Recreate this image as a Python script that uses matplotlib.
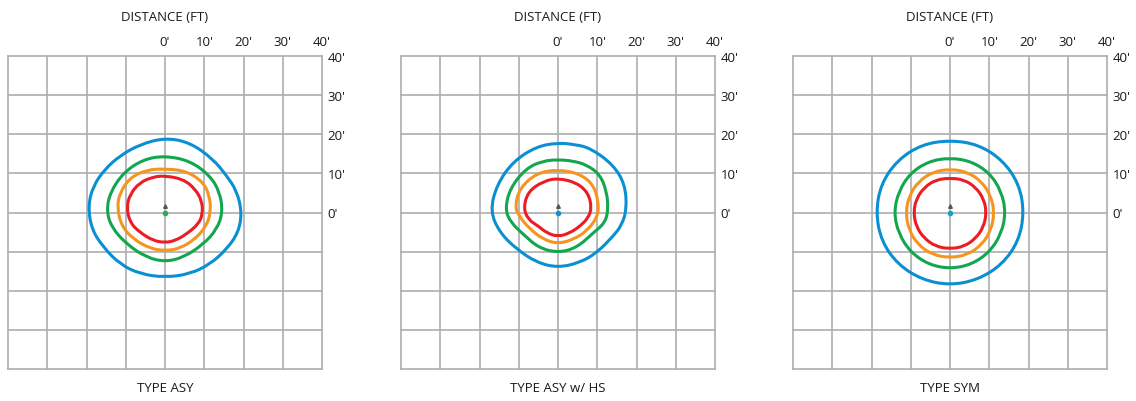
import matplotlib.pyplot as plt
from matplotlib.path import Path
from matplotlib.patches import PathPatch

plt.rcParams['font.family'] = ['Open Sans', 'DejaVu Sans']

# Panel titles and axis labels
titles = ['TYPE ASY', 'TYPE ASY w/ HS', 'TYPE SYM']
tick_vals = [0, 10, 20, 30, 40]
tick_labels = ["0'", "10'", "20'", "30'", "40'"]

# Contour points (feet), going clockwise from the top
# TYPE ASY
asy_blue_x = [0, 6.4, 12.3, 15.7, 18.3, 19.6, 18.7, 15.7, 11.5, 6.4, 0, -6.4, -11.5, -15.7, -18.7, -19.6, -18.3, -15.3, -11.5, -6.4]
asy_blue_y = [19.1, 17.9, 13.6, 9.4, 5.5, 0, -5.1, -9.4, -13.2, -15.7, -16.6, -15.7, -13.2, -8.9, -4.3, 1.7, 6.8, 11.1, 14.5, 17.4]
asy_green_x = [0, 6.4, 11.5, 14.0, 14.7, 13.2, 9.8, 4.7, 0, -4.7, -9.8, -13.6, -14.9, -14.0, -10.6, -5.5]
asy_green_y = [14.5, 13.2, 9.4, 5.1, 0, -4.3, -8.1, -11.5, -12.6, -11.5, -8.1, -3.8, 0.4, 5.1, 10.2, 13.6]
asy_orange_x = [0, 5.5, 9.8, 11.3, 11.7, 10.6, 7.7, 3.8, 0, -3.8, -8.1, -11.1, -12.2, -11.5, -8.9, -4.7]
asy_orange_y = [11.2, 10.6, 7.7, 4.3, 0.4, -3.4, -6.8, -9.2, -9.8, -9.2, -6.8, -3.4, 1.3, 5.1, 8.9, 10.9]
asy_red_x = [0, 4.7, 7.7, 9.4, 9.6, 8.5, 5.5, 2.6, 0, -3.0, -6.4, -8.9, -9.8, -8.9, -6.4, -3.0]
asy_red_y = [9.4, 8.5, 6.0, 3.0, -0.4, -3.0, -5.5, -7.2, -7.7, -7.2, -5.1, -2.6, 1.3, 4.7, 7.7, 9.1]

# TYPE ASY w/ HS
hs_blue_x = [0, 4.2, 8.2, 14.1, 17.1, 17.5, 16.2, 14.1, 9.9, 5.6, 0, -5.4, -10.5, -14.8, -17.3, -15.6, -11.4, -5.4]
hs_blue_y = [17.8, 17.4, 16.5, 12.2, 7.1, 0.8, -3.3, -6.0, -10.3, -12.8, -14.1, -12.8, -9.4, -5.2, 0.3, 7.1, 13.1, 16.9]
hs_green_x = [0, 3.7, 7.3, 10.7, 12.4, 12.8, 12.0, 9.0, 4.8, 0, -5.0, -8.8, -12.0, -13.5, -12.2, -8.0, -3.7]
hs_green_y = [13.5, 13.2, 12.2, 9.7, 5.4, 0.8, -2.6, -5.2, -9.0, -10.3, -9.0, -5.6, -2.6, 0.8, 6.3, 11.4, 13.2]
hs_orange_x = [0, 5.6, 9.0, 10.3, 10.2, 7.3, 3.9, 0, -3.7, -7.1, -9.9, -11.0, -9.7, -5.4]
hs_orange_y = [11.0, 9.9, 7.1, 2.9, -1.0, -4.8, -6.9, -8.0, -6.9, -4.3, -1.0, 1.6, 6.3, 10.1]
hs_red_x = [0, 4.8, 7.7, 8.6, 7.7, 5.6, 3.1, 0, -2.9, -5.0, -7.6, -8.8, -7.6, -3.7]
hs_red_y = [8.8, 7.6, 5.0, 1.2, -1.4, -3.5, -5.2, -6.2, -5.2, -3.5, -1.8, 1.2, 5.4, 8.0]

# TYPE SYM
sym_blue_x = [0, 7.2, 13.4, 17.6, 18.9, 17.5, 13.3, 7.1, 0, -7.1, -13.3, -17.5, -18.9, -17.6, -13.4, -7.2]
sym_blue_y = [18.5, 17.4, 13.4, 7.3, 0, -7.3, -13.3, -17.2, -18.6, -17.2, -13.3, -7.3, 0, 7.3, 13.4, 17.4]
sym_green_x = [0, 5.4, 10.1, 13.1, 14.2, 13.1, 10.1, 5.5, 0, -5.5, -10.1, -13.1, -14.3, -13.1, -10.1, -5.4]
sym_green_y = [14.0, 13.1, 10.1, 5.4, 0, -5.4, -10.1, -13.3, -14.4, -13.3, -10.1, -5.4, 0, 5.4, 10.1, 13.1]
sym_orange_x = [0, 4.3, 8.0, 10.4, 11.3, 10.5, 8.2, 4.5, 0, -4.5, -8.2, -10.5, -11.3, -10.4, -8.0, -4.3]
sym_orange_y = [11.1, 10.4, 8.0, 4.3, 0, -4.4, -8.2, -10.8, -11.6, -10.8, -8.2, -4.4, 0, 4.3, 8.0, 10.4]
sym_red_x = [0, 3.5, 6.5, 8.6, 9.3, 8.6, 6.6, 3.6, 0, -3.6, -6.6, -8.6, -9.3, -8.6, -6.5, -3.5]
sym_red_y = [8.8, 8.4, 6.5, 3.5, 0, -3.6, -6.6, -8.7, -9.3, -8.7, -6.6, -3.6, 0, 3.5, 6.5, 8.4]

panels = [
    [(asy_blue_x, asy_blue_y), (asy_green_x, asy_green_y), (asy_orange_x, asy_orange_y), (asy_red_x, asy_red_y)],
    [(hs_blue_x, hs_blue_y), (hs_green_x, hs_green_y), (hs_orange_x, hs_orange_y), (hs_red_x, hs_red_y)],
    [(sym_blue_x, sym_blue_y), (sym_green_x, sym_green_y), (sym_orange_x, sym_orange_y), (sym_red_x, sym_red_y)],
]
colors = ['#0a8fd2', '#12a64e', '#f7941d', '#ed1c24']
dot_colors = ['#22b04b', '#1a8fd0', '#1aa0c0']


def smooth_path(xs, ys):
    # closed quadratic bezier path: points are control points, curve goes through midpoints
    pts = list(zip(xs, ys))
    n = len(pts)
    mids = [((pts[k][0] + pts[(k + 1) % n][0]) / 2, (pts[k][1] + pts[(k + 1) % n][1]) / 2) for k in range(n)]
    verts = [mids[-1]]
    codes = [Path.MOVETO]
    for k in range(n):
        verts += [pts[k], mids[k]]
        codes += [Path.CURVE3, Path.CURVE3]
    return Path(verts, codes)


fig = plt.figure(figsize=(11.36, 4.02), dpi=100)
lefts = [8, 401, 793]

for i in range(3):
    ax = fig.add_axes([lefts[i] / 1136, 32 / 402, 314 / 1136, 313 / 402])
    ax.set_xlim(-40, 40)
    ax.set_ylim(-40, 40)
    for v in range(-40, 41, 10):
        ax.axvline(v, color='#adadad', lw=1.2, zorder=1, clip_on=False)
        ax.axhline(v, color='#adadad', lw=1.2, zorder=1, clip_on=False)
    for spine in ax.spines.values():
        spine.set_visible(False)

    for (xs, ys), c in zip(panels[i], colors):
        ax.add_patch(PathPatch(smooth_path(xs, ys), fill=False, edgecolor=c, lw=2.2, zorder=3))

    # luminaire marker
    ax.plot([0], [1.7], marker='^', ms=2.6, color='#555555', zorder=4)
    ax.plot([0], [0], marker='o', ms=3.0, color=dot_colors[i], zorder=4)

    ax.xaxis.tick_top()
    ax.yaxis.tick_right()
    ax.set_xticks(tick_vals)
    ax.set_xticklabels(tick_labels)
    ax.set_yticks(tick_vals)
    ax.set_yticklabels(tick_labels)
    ax.tick_params(length=0, labelsize=9.5, colors='#1a1a1a')
    ax.tick_params(axis='x', pad=6)
    ax.tick_params(axis='y', pad=4)
    ax.set_title('DISTANCE (FT)', fontsize=9.5, color='#1a1a1a', pad=26)
    ax.set_xlabel(titles[i], fontsize=9.5, color='#1a1a1a', labelpad=9)

fig.savefig('out.png', dpi=100)
